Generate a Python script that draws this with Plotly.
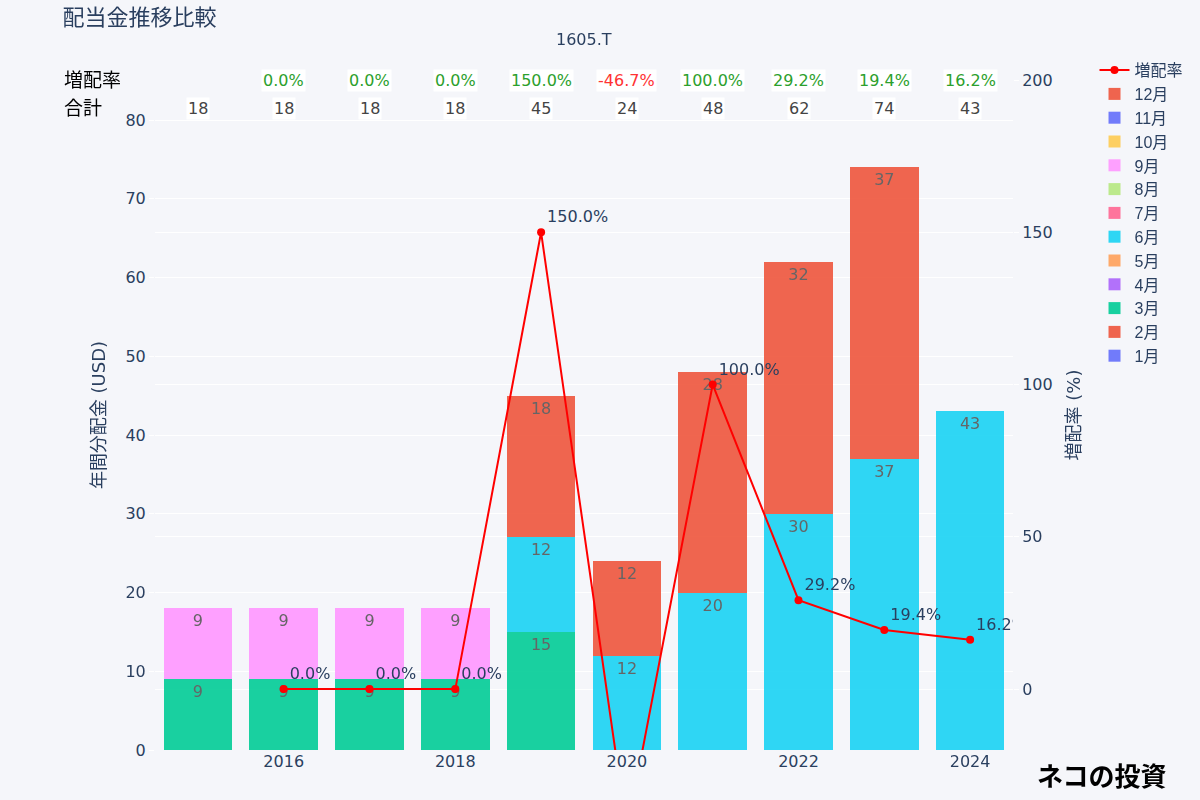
import plotly.graph_objects as go

years = [2015, 2016, 2017, 2018, 2019, 2020, 2021, 2022, 2023, 2024]
months = ["1月", "2月", "3月", "4月", "5月", "6月", "7月", "8月", "9月", "10月", "11月", "12月"]
# monthly dividends per year (None = no payment)
m_mar = [9, 9, 9, 9, 15, None, None, None, None, None]
m_jun = [None, None, None, None, 12, 12, 20, 30, 37, 43]
m_sep = [9, 9, 9, 9, None, None, None, None, None, None]
m_dec = [None, None, None, None, 18, 12, 28, 32, 37, None]
monthly = {
    "1月": [None] * 10, "2月": [None] * 10, "3月": m_mar, "4月": [None] * 10,
    "5月": [None] * 10, "6月": m_jun, "7月": [None] * 10, "8月": [None] * 10,
    "9月": m_sep, "10月": [None] * 10, "11月": [None] * 10, "12月": m_dec,
}
totals = [18, 18, 18, 18, 45, 24, 48, 62, 74, 43]
growth_years = [2016, 2017, 2018, 2019, 2020, 2021, 2022, 2023, 2024]
growth = [0.0, 0.0, 0.0, 150.0, -46.7, 100.0, 29.2, 19.4, 16.2]

colors = ["#636efa", "#EF553B", "#00cc96", "#ab63fa", "#FFA15A", "#19d3f3",
          "#FF6692", "#B6E880", "#FF97FF", "#FECB52", "#636efa", "#EF553B"]

FONT = "DejaVu Sans, Noto Sans CJK JP, sans-serif"
fig = go.Figure()
for m, c in zip(months, colors):
    vals = monthly[m]
    fig.add_trace(go.Bar(
        x=years, y=vals, name=m, marker_color=c, opacity=0.9,
        marker_line_width=0,
        text=[("" if v is None else str(v)) for v in vals],
        textposition="inside", insidetextanchor="end",
        textfont=dict(color="#555555", size=16), yaxis="y",
    ))

fig.add_trace(go.Scatter(
    x=growth_years, y=growth, name="増配率", mode="lines+markers+text",
    line=dict(color="red", width=2), marker=dict(color="red", size=8),
    text=[f"{g:.1f}%" for g in growth], textposition="top right",
    textfont=dict(size=16, color="#2a3f5f"), yaxis="y2", cliponaxis=True,
))

annotations = [
    dict(text="増配率", x=-0.108, y=1.0, xref="paper", yref="paper", xanchor="left",
         yanchor="middle", showarrow=False, font=dict(size=19, color="black")),
    dict(text="合計", x=-0.108, y=0.958, xref="paper", yref="paper", xanchor="left",
         yanchor="middle", showarrow=False, font=dict(size=19, color="black")),
    dict(text="1605.T", x=0.5, y=1.06, xref="paper", yref="paper", xanchor="center",
         yanchor="middle", showarrow=False, font=dict(size=16, color="#2a3f5f")),
    dict(text="<b>ネコの投資</b>", x=1.0256, y=-0.037, xref="paper", yref="paper",
         xanchor="left", yanchor="middle", showarrow=False,
         font=dict(size=26, color="black", family="Noto Sans CJK JP")),
]
for yr, t in zip(years, totals):
    annotations.append(dict(text=str(t), x=yr, y=0.958, xref="x", yref="paper",
                            yanchor="middle", showarrow=False, bgcolor="white",
                            font=dict(size=16, color="#444444")))
for yr, g in zip(growth_years, growth):
    annotations.append(dict(text=f"{g:.1f}%", x=yr, y=1.0, xref="x", yref="paper",
                            yanchor="middle", showarrow=False, bgcolor="white",
                            font=dict(size=16, color="#2ca02c" if g >= 0 else "#ff3333")))

fig.update_layout(
    width=1200, height=800,
    barmode="stack",
    paper_bgcolor="#f5f6fa", plot_bgcolor="#f5f6fa",
    font=dict(family=FONT, size=16, color="#2a3f5f"),
    title=dict(text="配当金推移比較", x=0.052, xanchor="left", y=0.978, yanchor="middle",
               yref="container", font=dict(size=22, color="#2a3f5f")),
    margin=dict(l=155, r=185, t=80, b=50),
    xaxis=dict(showgrid=False, dtick=2, tick0=2016, range=[2014.5, 2024.5],
               tickfont=dict(size=16)),
    yaxis=dict(title=dict(text="年間分配金 (USD)", font=dict(size=18)), range=[0, 85.1],
               dtick=10, gridcolor="white", zeroline=False, tickfont=dict(size=16),
               ticks="outside", ticklen=5, tickcolor="white"),
    yaxis2=dict(title=dict(text="増配率 (%)", font=dict(size=18)), overlaying="y",
                side="right", range=[-20, 200], dtick=50, gridcolor="white",
                zeroline=False, tickfont=dict(size=16),
                ticks="outside", ticklen=5, tickcolor="white"),
    legend=dict(traceorder="reversed", x=1.095, y=1.04, xanchor="left", yanchor="top",
                font=dict(size=16, family="Liberation Sans, Arial, Noto Sans CJK JP"),
                bgcolor="rgba(0,0,0,0)"),
    annotations=annotations,
    bargap=0.2,
)

fig.write_html("out.html", config={"displayModeBar": False},
               post_script="document.body.style.margin='0';document.body.style.padding='0';")
